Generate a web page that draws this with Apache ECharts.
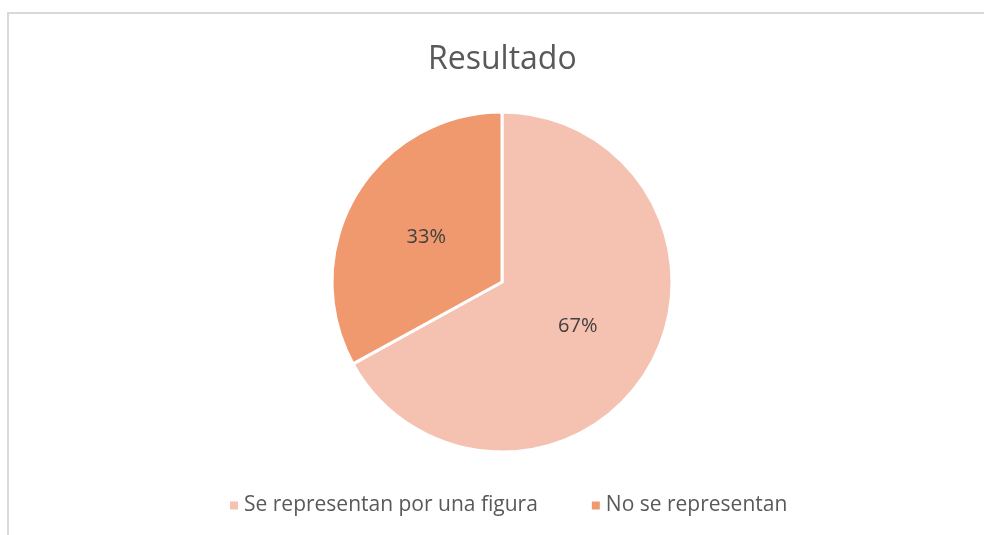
<!DOCTYPE html>
<html>
<head>
<meta charset="utf-8">
<script src="https://cdn.jsdelivr.net/npm/echarts@6/dist/echarts.min.js"></script>
<style>
  html, body { margin: 0; padding: 0; background: #fff; }
  #main { width: 984px; height: 535px; }
</style>
</head>
<body>
<div id="main"></div>
<script>
// 数据
var categories = ['Se representan por una figura', 'No se representan'];
var values = [67, 33];
var colors = ['#f5c2b1', '#f0996f'];

var chart = echarts.init(document.getElementById('main'));

var pieData = categories.map(function (name, i) {
    return { name: name, value: values[i], itemStyle: { color: colors[i] } };
});

chart.setOption({
    title: {
        text: 'Resultado',
        left: 423,
        top: 39,
        textStyle: {
            color: '#595959',
            fontWeight: 'normal',
            fontSize: 32,
            fontFamily: 'Open Sans'
        }
    },
    legend: {
        bottom: 14,
        left: 223,
        itemWidth: 10,
        itemHeight: 10,
        itemGap: 52,
        icon: 'rect',
        textStyle: {
            color: '#595959',
            fontSize: 21,
            fontFamily: 'Open Sans'
        },
        data: categories
    },
    graphic: [{
        type: 'rect',
        shape: { x: 8, y: 13, width: 1100, height: 600 },
        style: { fill: 'none', stroke: '#d9d9d9', lineWidth: 2 },
        silent: true
    }],
    series: [{
        type: 'pie',
        center: [502, 282],
        radius: 170,
        startAngle: 90,
        clockwise: true,
        silent: true,
        label: {
            show: true,
            position: 'inner',
            formatter: '{d}%',
            color: '#404040',
            fontSize: 20,
            fontFamily: 'Open Sans'
        },
        labelLine: { show: false },
        itemStyle: {
            borderColor: '#fff',
            borderWidth: 3
        },
        data: pieData
    }]
});
</script>
</body>
</html>
